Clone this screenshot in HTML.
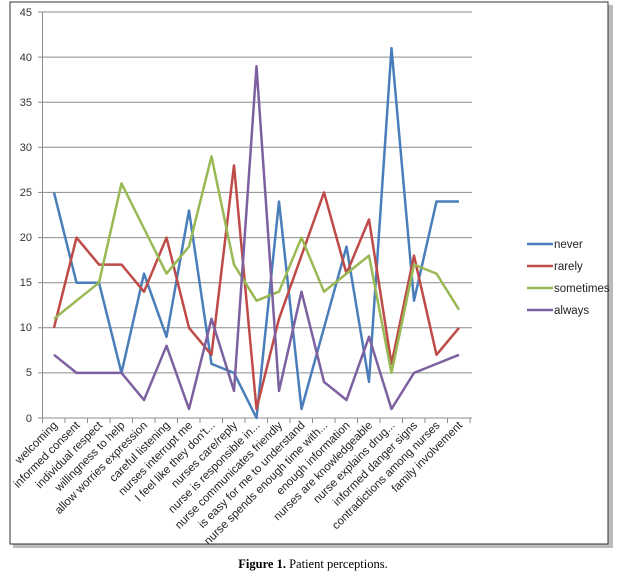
<!DOCTYPE html>
<html><head><meta charset="utf-8"><style>
html,body{margin:0;padding:0;background:#fff;width:620px;height:574px;overflow:hidden}
</style></head><body>
<svg width="620" height="574" xmlns="http://www.w3.org/2000/svg" font-family="Liberation Sans, sans-serif">
<rect x="13" y="5" width="600" height="543" fill="#bbb"/>
<rect x="10" y="2" width="598" height="542" fill="#fff" stroke="#333" stroke-width="1"/>
<g stroke="#8c8c8c" stroke-width="1">
<line x1="42" y1="12" x2="472" y2="12"/>
<line x1="42" y1="57.1" x2="472" y2="57.1"/>
<line x1="42" y1="102.2" x2="472" y2="102.2"/>
<line x1="42" y1="147.3" x2="472" y2="147.3"/>
<line x1="42" y1="192.4" x2="472" y2="192.4"/>
<line x1="42" y1="237.6" x2="472" y2="237.6"/>
<line x1="42" y1="282.7" x2="472" y2="282.7"/>
<line x1="42" y1="327.8" x2="472" y2="327.8"/>
<line x1="42" y1="372.9" x2="472" y2="372.9"/>
<line x1="42" y1="418" x2="472" y2="418"/>
<line x1="42.5" y1="12" x2="42.5" y2="418"/>
</g>
<g stroke="#8c8c8c" stroke-width="1" id="ticks"></g>
<g font-size="11" fill="#333" text-anchor="end">
<text x="32" y="16">45</text><text x="32" y="61">40</text><text x="32" y="106">35</text>
<text x="32" y="151">30</text><text x="32" y="196">25</text><text x="32" y="241">20</text>
<text x="32" y="286">15</text><text x="32" y="331">10</text><text x="32" y="376">5</text>
<text x="32" y="422">0</text>
</g>
<g fill="none" stroke-width="2.5" stroke-linejoin="round">
<polyline stroke="#4a7ebb" points="54,192.4 76.5,282.7 99,282.7 121.5,372.9 144,273.6 166.5,336.8 189,210.5 211.5,363.9 234,372.9 256.5,418 279,201.5 301.5,409 324,327.8 346.5,246.6 369,381.9 391.5,48.1 414,300.7 436.5,201.5 459,201.5"/>
<polyline stroke="#be4b48" points="54,327.8 76.5,237.6 99,264.6 121.5,264.6 144,291.7 166.5,237.6 189,327.8 211.5,354.8 234,165.4 256.5,409 279,318.8 301.5,255.6 324,192.4 346.5,273.6 369,219.5 391.5,363.9 414,255.6 436.5,354.8 459,327.8"/>
<polyline stroke="#98b954" points="54,318.8 76.5,300.7 99,282.7 121.5,183.4 144,228.5 166.5,273.6 189,246.6 211.5,156.4 234,264.6 256.5,300.7 279,291.7 301.5,237.6 324,291.7 346.5,273.6 369,255.6 391.5,372.9 414,264.6 436.5,273.6 459,309.7"/>
<polyline stroke="#7d60a0" points="54,354.8 76.5,372.9 99,372.9 121.5,372.9 144,400 166.5,345.8 189,409 211.5,318.8 234,390.9 256.5,66.1 279,390.9 301.5,291.7 324,381.9 346.5,400 369,336.8 391.5,409 414,372.9 436.5,363.9 459,354.8"/>
</g>
<g font-size="11.5" fill="#222" text-anchor="end">
<text transform="translate(58,426) rotate(-45)">welcoming</text>
<text transform="translate(80.5,426) rotate(-45)">informed consent</text>
<text transform="translate(103,426) rotate(-45)">individual respect</text>
<text transform="translate(125.5,426) rotate(-45)">willingness to help</text>
<text transform="translate(148,426) rotate(-45)">allow worries expression</text>
<text transform="translate(170.5,426) rotate(-45)">careful listening</text>
<text transform="translate(193,426) rotate(-45)">nurses interrupt me</text>
<text transform="translate(215.5,426) rotate(-45)">I feel like they don't...</text>
<text transform="translate(238,426) rotate(-45)">nurses care/reply</text>
<text transform="translate(260.5,426) rotate(-45)">nurse is responsible in...</text>
<text transform="translate(283,426) rotate(-45)">nurse communicates friendly</text>
<text transform="translate(305.5,426) rotate(-45)">is easy for me to understand</text>
<text transform="translate(328,426) rotate(-45)">nurse spends enough time with...</text>
<text transform="translate(350.5,426) rotate(-45)">enough information</text>
<text transform="translate(373,426) rotate(-45)">nurses are knowledgeable</text>
<text transform="translate(395.5,426) rotate(-45)">nurse explains drug...</text>
<text transform="translate(418,426) rotate(-45)">informed danger signs</text>
<text transform="translate(440.5,426) rotate(-45)">contradictions among nurses</text>
<text transform="translate(463,426) rotate(-45)">family involvement</text>
</g>
<g stroke-width="2.5">
<line x1="527" y1="244" x2="553" y2="244" stroke="#4a7ebb"/>
<line x1="527" y1="266" x2="553" y2="266" stroke="#be4b48"/>
<line x1="527" y1="288" x2="553" y2="288" stroke="#98b954"/>
<line x1="527" y1="310" x2="553" y2="310" stroke="#7d60a0"/>
</g>
<g font-size="11.5" fill="#222">
<text x="554" y="248">never</text><text x="554" y="270">rarely</text>
<text x="554" y="292">sometimes</text><text x="554" y="314">always</text>
</g>
<text x="313" y="568" text-anchor="middle" font-family="Liberation Serif, serif" font-size="12.5" fill="#000"><tspan font-weight="bold">Figure 1.</tspan> Patient perceptions.</text>
</svg>
<script>
var g=document.getElementById('ticks');
for(var k=0;k<=19;k++){var x=42.5+22.5*k;var l=document.createElementNS('http://www.w3.org/2000/svg','line');l.setAttribute('x1',x);l.setAttribute('x2',x);l.setAttribute('y1',418);l.setAttribute('y2',423);g.appendChild(l);}
for(var j=0;j<=9;j++){var y=12+j*45.11;var l=document.createElementNS('http://www.w3.org/2000/svg','line');l.setAttribute('x1',38);l.setAttribute('x2',42.5);l.setAttribute('y1',y);l.setAttribute('y2',y);g.appendChild(l);}
</script>
</body></html>
